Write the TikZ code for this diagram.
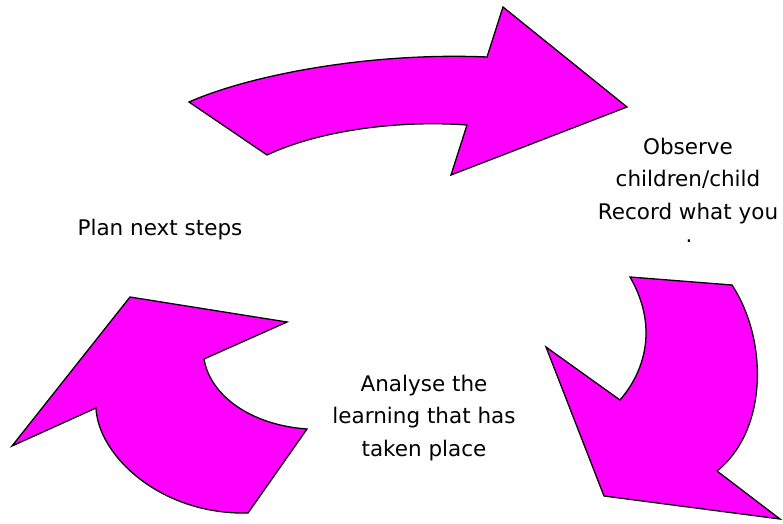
\documentclass[tikz,border=0pt]{standalone}
\usepackage{fontspec}
\setmainfont{DejaVu Sans}
\begin{document}
\begin{tikzpicture}[x=1pt,y=-1pt,
  arrowshape/.style={fill={rgb,255:red,255;green,0;blue,255},draw=black,line width=1.3pt,line join=miter},
  lbl/.style={align=center,font=\fontsize{21.5}{32.5}\selectfont,inner sep=0pt}]
\useasboundingbox (0,0) rectangle (783,523);
% top arrow
\draw[arrowshape] (189,102) .. controls (250,75) and (370,52) .. (487,57)
  -- (503,7) -- (627,107) -- (451,175) -- (467,125)
  .. controls (400,120) and (320,130) .. (267,155) -- cycle;
% right arrow
\draw[arrowshape] (630,277) -- (732,285)
  .. controls (768,340) and (768,430) .. (717,471)
  -- (780,519) -- (604,496) -- (546,347) -- (620,400)
  .. controls (650,365) and (655,320) .. (630,277) -- cycle;
% left arrow
\draw[arrowshape] (130,297) -- (287,322) -- (204,359)
  .. controls (210,395) and (250,425) .. (307,429)
  -- (248,513)
  .. controls (160,515) and (98,455) .. (96,408)
  -- (12,446) -- cycle;
% labels
\node[lbl] (plan) at (160,230) {Plan next steps};
\node[lbl] (obs) at (688,181) {Observe\\children/child\\Record what you};
\node[lbl,anchor=base] (dot) at (689,242) {.};
\node[lbl] (ana) at (424,418) {Analyse the\\learning that has\\taken place};
\end{tikzpicture}
\end{document}
